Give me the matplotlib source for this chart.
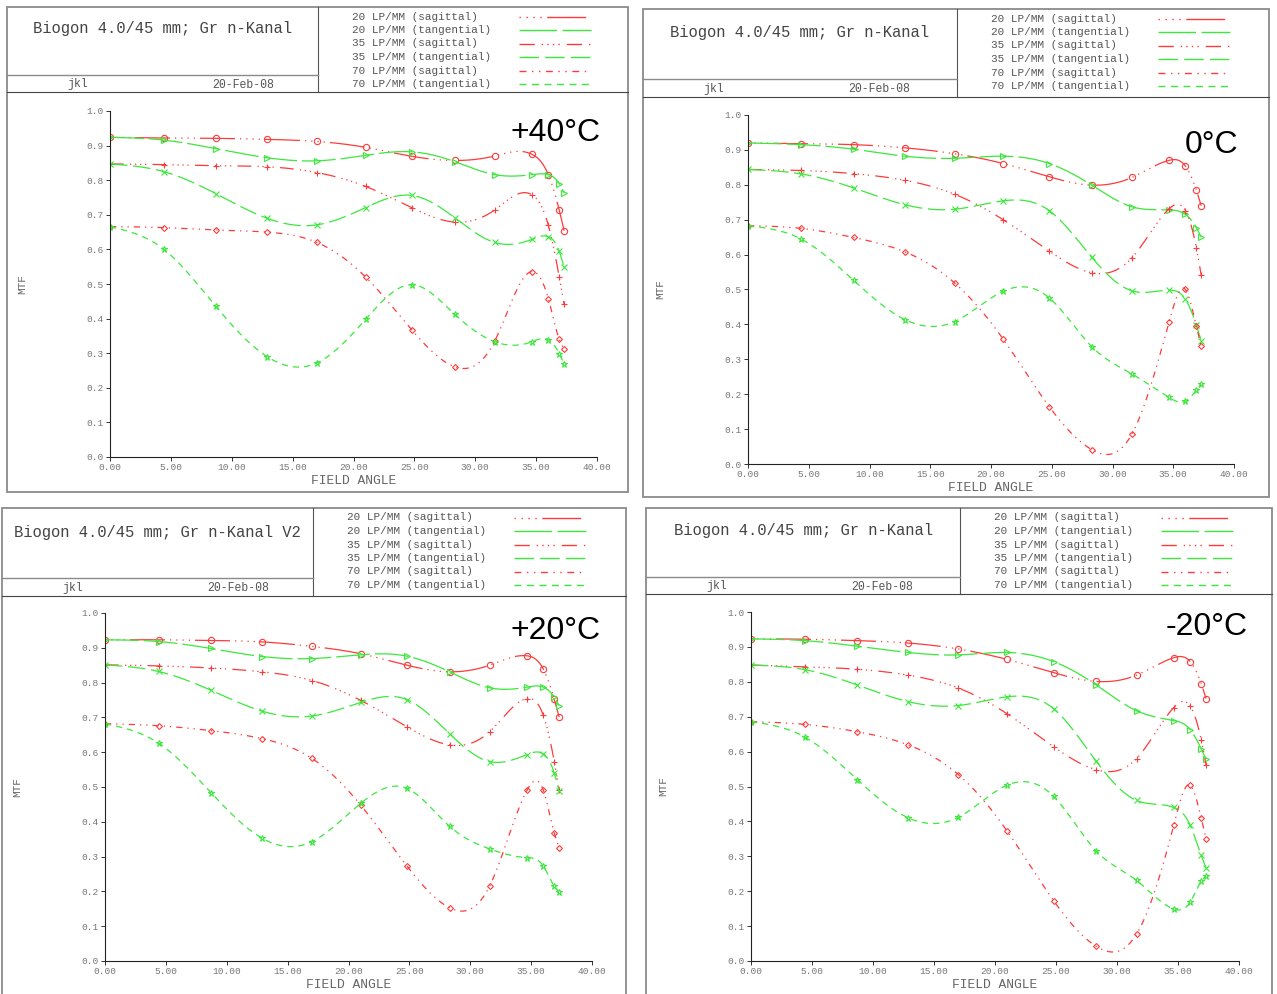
import numpy as np
import matplotlib
matplotlib.use("Agg")
import matplotlib.pyplot as plt
from matplotlib.lines import Line2D
from matplotlib.patches import Rectangle

plt.rcParams['font.family'] = ['Liberation Mono', 'DejaVu Sans Mono']

# field angles of the sample points (same for all four charts)
field = [0.0, 4.4, 8.7, 12.9, 17.0, 21.0, 24.8, 28.3, 31.6, 34.65, 36.0, 36.9, 37.3]

# +40 C
s20_p40 = [0.924, 0.922, 0.921, 0.918, 0.912, 0.895, 0.869, 0.857, 0.870, 0.875, 0.816, 0.713, 0.654]
t20_p40 = [0.924, 0.916, 0.891, 0.865, 0.856, 0.872, 0.882, 0.854, 0.816, 0.816, 0.816, 0.790, 0.763]
s35_p40 = [0.847, 0.845, 0.842, 0.839, 0.822, 0.782, 0.720, 0.679, 0.714, 0.758, 0.670, 0.520, 0.441]
t35_p40 = [0.847, 0.825, 0.761, 0.690, 0.671, 0.721, 0.756, 0.692, 0.620, 0.629, 0.637, 0.594, 0.548]
s70_p40 = [0.666, 0.663, 0.656, 0.650, 0.620, 0.520, 0.367, 0.261, 0.335, 0.536, 0.458, 0.340, 0.312]
t70_p40 = [0.666, 0.601, 0.435, 0.290, 0.272, 0.398, 0.498, 0.413, 0.333, 0.333, 0.339, 0.299, 0.268]

# 0 C
s20_0 = [0.920, 0.918, 0.915, 0.906, 0.889, 0.861, 0.823, 0.799, 0.821, 0.870, 0.854, 0.785, 0.740]
t20_0 = [0.920, 0.915, 0.902, 0.882, 0.876, 0.882, 0.861, 0.799, 0.737, 0.728, 0.715, 0.677, 0.650]
s35_0 = [0.844, 0.841, 0.832, 0.813, 0.773, 0.700, 0.610, 0.548, 0.591, 0.731, 0.726, 0.620, 0.541]
t35_0 = [0.844, 0.831, 0.791, 0.743, 0.730, 0.754, 0.726, 0.592, 0.496, 0.498, 0.472, 0.398, 0.353]
s70_0 = [0.683, 0.675, 0.649, 0.608, 0.519, 0.358, 0.164, 0.041, 0.086, 0.406, 0.500, 0.395, 0.337]
t70_0 = [0.683, 0.644, 0.526, 0.414, 0.408, 0.495, 0.476, 0.336, 0.258, 0.191, 0.180, 0.211, 0.228]

# +20 C
s20_p20 = [0.923, 0.923, 0.921, 0.917, 0.904, 0.883, 0.850, 0.831, 0.850, 0.877, 0.839, 0.752, 0.701]
t20_p20 = [0.923, 0.918, 0.898, 0.875, 0.869, 0.880, 0.876, 0.831, 0.785, 0.787, 0.787, 0.758, 0.734]
s35_p20 = [0.851, 0.848, 0.842, 0.831, 0.806, 0.749, 0.673, 0.621, 0.659, 0.754, 0.706, 0.573, 0.491]
t35_p20 = [0.851, 0.832, 0.778, 0.718, 0.704, 0.743, 0.751, 0.653, 0.573, 0.593, 0.595, 0.540, 0.488]
s70_p20 = [0.682, 0.676, 0.662, 0.639, 0.582, 0.448, 0.273, 0.153, 0.216, 0.490, 0.491, 0.368, 0.326]
t70_p20 = [0.682, 0.626, 0.484, 0.353, 0.343, 0.453, 0.496, 0.387, 0.322, 0.297, 0.273, 0.215, 0.199]

# -20 C
s20_m20 = [0.923, 0.922, 0.918, 0.911, 0.894, 0.864, 0.826, 0.801, 0.819, 0.869, 0.858, 0.795, 0.752]
t20_m20 = [0.923, 0.918, 0.902, 0.884, 0.877, 0.884, 0.858, 0.791, 0.717, 0.689, 0.663, 0.608, 0.578]
s35_m20 = [0.848, 0.843, 0.836, 0.819, 0.782, 0.708, 0.614, 0.548, 0.580, 0.726, 0.730, 0.634, 0.561]
t35_m20 = [0.848, 0.835, 0.791, 0.743, 0.732, 0.757, 0.723, 0.572, 0.460, 0.440, 0.389, 0.303, 0.267]
s70_m20 = [0.686, 0.678, 0.657, 0.619, 0.534, 0.372, 0.173, 0.042, 0.077, 0.389, 0.504, 0.410, 0.350]
t70_m20 = [0.686, 0.642, 0.520, 0.410, 0.412, 0.504, 0.472, 0.315, 0.231, 0.149, 0.169, 0.228, 0.243]

legend_labels = ['20 LP/MM (sagittal)', '20 LP/MM (tangential)',
                 '35 LP/MM (sagittal)', '35 LP/MM (tangential)',
                 '70 LP/MM (sagittal)', '70 LP/MM (tangential)']

RED = '#ff3a3a'
GREEN = '#3be83b'
# colour, dash pattern, marker, marker size
styles = [
    (RED, (0, (1, 4, 1, 4, 1, 4, 1, 4, 28, 4)), 'o', 4.5),
    (GREEN, (0, (27, 4)), '>', 4.5),
    (RED, (0, (11, 5, 1, 3, 1, 3, 1, 3, 1, 5)), '+', 5),
    (GREEN, (0, (14, 4.5)), 'x', 4.5),
    (RED, (0, (5, 4, 1, 4, 1, 4)), 'D', 3),
    (GREEN, (0, (5, 4)), '*', 4.5),
]

W, H = 1277, 994


def fx(px):
    return px / W


def fy(py):
    return 1 - py / H


def cspline(x, y, num=600):
    # natural cubic spline through the sample points
    x = np.asarray(x, float)
    y = np.asarray(y, float)
    n = len(x)
    h = np.diff(x)
    A = np.zeros((n, n))
    b = np.zeros(n)
    A[0, 0] = A[-1, -1] = 1
    for i in range(1, n - 1):
        A[i, i - 1] = h[i - 1]
        A[i, i] = 2 * (h[i - 1] + h[i])
        A[i, i + 1] = h[i]
        b[i] = 3 * ((y[i + 1] - y[i]) / h[i] - (y[i] - y[i - 1]) / h[i - 1])
    c = np.linalg.solve(A, b)
    bb = (y[1:] - y[:-1]) / h - h * (2 * c[:-1] + c[1:]) / 3
    d = (c[1:] - c[:-1]) / (3 * h)
    xs = np.linspace(x[0], x[-1], num)
    idx = np.clip(np.searchsorted(x, xs, side='right') - 1, 0, n - 2)
    dx = xs - x[idx]
    ys = y[idx] + bb[idx] * dx + c[idx] * dx ** 2 + d[idx] * dx ** 3
    return xs, ys


fig = plt.figure(figsize=(W / 100, H / 100), dpi=100)


def hline(x0, x1, y, color, lw):
    fig.add_artist(Line2D([fx(x0), fx(x1)], [fy(y), fy(y)], color=color, lw=lw))


def vline(x, y0, y1, color, lw):
    fig.add_artist(Line2D([fx(x), fx(x)], [fy(y0), fy(y1)], color=color, lw=lw))


def panel(frame, div, mid, bot, axbox, title, temp, temp_pos, title_y, series):
    x0, y0, x1, y1 = frame
    # outer frame
    fig.add_artist(Rectangle((fx(x0), fy(y1)), (x1 - x0) / W, (y1 - y0) / H,
                             fill=False, ec='#8a8a8a', lw=1.3))
    vline(div, y0, bot, '#555555', 0.8)
    hline(x0, div, mid, '#8a8a8a', 1.0)
    hline(x0, x1, bot, '#444444', 0.8)

    fig.text(fx((x0 + div) / 2), fy(title_y), title, fontsize=11.2, color='#444444',
             ha='center', va='center')
    fig.text(fx(x0 + 71), fy((mid + bot) / 2 + 1), 'jkl', fontsize=8.3, color='#555555',
             ha='center', va='center')
    fig.text(fx(x0 + 236), fy((mid + bot) / 2 + 1), '20-Feb-08', fontsize=8.3,
             color='#555555', ha='center', va='center')

    # legend in the header
    for i, (lab, st) in enumerate(zip(legend_labels, styles)):
        yy = y0 + 9.5 + i * 13.5
        fig.text(fx(div + 34), fy(yy), lab, fontsize=7.9, color='#555555',
                 ha='left', va='center')
        fig.add_artist(Line2D([fx(div + 201), fx(div + 273)], [fy(yy), fy(yy)],
                              color=st[0], lw=1.0, linestyle=st[1]))

    ax0, ax1, ay0, ay1 = axbox
    ax = fig.add_axes([fx(ax0), fy(ay0), (ax1 - ax0) / W, (ay0 - ay1) / H])
    for vals, (col, ls, mk, ms) in zip(series, styles):
        xs, ys = cspline(field, vals)
        ax.plot(xs, ys, color=col, lw=0.9, linestyle=ls)
        ax.plot(field, vals, linestyle='none', marker=mk, ms=ms, mfc='none',
                mec=col, mew=0.8)
    ax.set_xlim(0, 40)
    ax.set_ylim(0, 1)
    ax.set_xticks(np.arange(0, 41, 5))
    ax.set_xticklabels(['%.2f' % v for v in np.arange(0, 41, 5)])
    ax.set_yticks(np.arange(0, 1.01, 0.1))
    ax.set_yticklabels(['%.1f' % v for v in np.arange(0, 1.01, 0.1)])
    ax.patch.set_visible(False)
    for s in ['top', 'right']:
        ax.spines[s].set_visible(False)
    for s in ['left', 'bottom']:
        ax.spines[s].set_color('#222222')
        ax.spines[s].set_linewidth(0.8)
    ax.tick_params(direction='out', length=3, width=0.7, color='#333333',
                   labelsize=6.8, labelcolor='#777777', pad=1.5)

    fig.text(fx((ax0 + ax1) / 2), fy(ay0 + 24), 'FIELD ANGLE', fontsize=9.4,
             color='#666666', ha='center', va='center')
    fig.text(fx(ax0 - 88), fy((ay0 + ay1) / 2), 'MTF', fontsize=8, color='#666666',
             ha='center', va='center', rotation=90)
    fig.text(fx(temp_pos[0]), fy(temp_pos[1]), temp, fontsize=23, color='black',
             ha='right', va='center', family=['Liberation Sans', 'DejaVu Sans'])


panel((7, 7, 628, 492), 318, 75, 92, (110, 597, 457, 111),
      'Biogon 4.0/45 mm; Gr n-Kanal', '+40°C', (601, 133), 29,
      [s20_p40, t20_p40, s35_p40, t35_p40, s70_p40, t70_p40])
panel((643, 9, 1269, 497), 957, 79, 97, (748, 1234, 464, 115),
      'Biogon 4.0/45 mm; Gr n-Kanal', '0°C', (1238, 145), 33,
      [s20_0, t20_0, s35_0, t35_0, s70_0, t70_0])
panel((2, 508, 626, 1000), 313, 578, 596, (105, 592, 961, 613),
      'Biogon 4.0/45 mm; Gr n-Kanal V2', '+20°C', (601, 631), 532,
      [s20_p20, t20_p20, s35_p20, t35_p20, s70_p20, t70_p20])
panel((646, 508, 1272, 1000), 960, 577, 594, (751, 1239, 961, 612),
      'Biogon 4.0/45 mm; Gr n-Kanal', '-20°C', (1248, 627), 530,
      [s20_m20, t20_m20, s35_m20, t35_m20, s70_m20, t70_m20])

fig.savefig('out.png', dpi=100)
